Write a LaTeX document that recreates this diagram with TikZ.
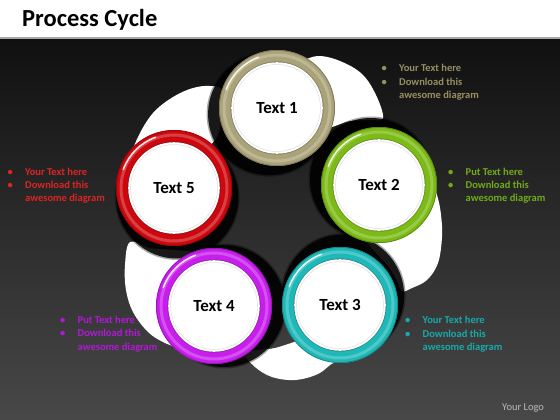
\documentclass[tikz,border=0pt]{standalone}
\usepackage{fontspec}
\setmainfont{Carlito}
\definecolor{cA}{RGB}{170,162,120}
\definecolor{cB}{RGB}{124,186,22}
\definecolor{cC}{RGB}{30,184,184}
\definecolor{cD}{RGB}{200,30,236}
\definecolor{cE}{RGB}{204,8,14}
\definecolor{tA}{RGB}{152,142,98}
\definecolor{tB}{RGB}{114,170,24}
\definecolor{tC}{RGB}{24,170,170}
\definecolor{tD}{RGB}{178,24,216}
\definecolor{tE}{RGB}{220,36,36}
\definecolor{bgtop}{RGB}{16,16,16}
\definecolor{bgbot}{RGB}{72,72,72}
\newcommand\ringat[5]{%
  \fill[#4, even odd rule] (#2,#3) circle[radius=58pt] (#2,#3) circle[radius=46pt];
  \draw[#4!55!white, line width=3pt, opacity=.5] (#2,#3) circle[radius=53pt];
  \draw[#4!75!black, line width=.8pt] (#2,#3) circle[radius=57.6pt];
  \draw[#4!75!black, line width=.6pt] (#2,#3) circle[radius=46.2pt];
  \fill[white] (#2,#3) circle[radius=45.8pt];
  \draw[gray!25, line width=.5pt] (#2,#3) circle[radius=43.5pt];
  \draw[white, opacity=.85, line width=1.6pt, line cap=round] ([shift={(110:54pt)}]#2,#3) arc[start angle=110, end angle=160, radius=54pt];
  \node[lbl] (#1) at (#2,#3) {#5};
}
\newcommand\shadowat[2]{%
  \fill[black, opacity=.35] (#1,#2) circle[radius=62.5pt];
  \fill[black, opacity=.85] (#1,#2) circle[radius=61pt];
}
\newcommand\bullets[6]{% name, x, y, color, line1, line2
  \node[bul, text=#4] (#1) at (#2,#3) {\begin{tabular}[t]{@{}l@{}}
    \makebox[17.5pt][l]{\textbullet}#5\\
    \makebox[17.5pt][l]{\textbullet}#6\\
    \makebox[17.5pt][l]{}awesome diagram
  \end{tabular}};
}
\begin{document}
\begin{tikzpicture}[x=1pt,y=-1pt,
  lbl/.style={font=\fontsize{17}{20}\selectfont\bfseries, text=black, inner sep=0pt},
  bul/.style={font=\fontsize{10.5}{13.5}\selectfont\bfseries, anchor=base west, inner sep=0pt},
  blade/.style={fill=white}]
\useasboundingbox (0,0) rectangle (560,420);
% background
\fill[white] (0,0) rectangle (560,38);
\shade[top color=bgtop, bottom color=bgbot] (0,38) rectangle (560,420);
\fill[gray!70] (0,37.3) rectangle (560,39);
\node[font=\fontsize{24.5}{28}\selectfont\bfseries, anchor=base west, inner sep=0pt] (title) at (22,27) {Process Cycle};
% blades
\fill[blade] plot[smooth, tension=.6] coordinates {(300,62) (318,56) (340,61) (362,74) (376,95) (383,118) (370,120) (350,121) (332,127) (322,128)} -- (277,108) -- cycle;
\fill[blade] plot[smooth, tension=.6] coordinates {(425,160) (437,195) (441,215) (442,237) (438,263) (427,280) (412,288) (402,291) (396,279) (388,266) (376,253) (365,240)} -- (379,185) -- cycle;
\fill[blade] plot[smooth, tension=.6] coordinates {(360,355) (335,362) (318,374) (295,380) (272,377) (255,367) (245,354) (258,350) (275,348) (300,340)} -- (340,305) -- cycle;
\fill[blade] plot[smooth, tension=.6] coordinates {(185,350) (165,343) (148,332) (133,312) (126,290) (125,265) (130,242) (150,248) (175,250) (195,252) (205,256)} -- (214,306) -- cycle;
\fill[blade] plot[smooth, tension=.6] coordinates {(130,175) (130,160) (138,137) (153,113) (173,97) (193,88) (210,86) (222,90) (222,110) (218,135) (205,150)} -- (174,188) -- cycle;
% shadows
\shadowat{269.1}{114.1}
\shadowat{371}{179}
\shadowat{343.1}{295.5}
\shadowat{224}{306}
\shadowat{177.2}{197.5}
% rings
\ringat{t1}{277}{108}{cA}{Text 1}
\ringat{t2}{379}{185}{cB}{Text 2}
\ringat{t3}{340}{305}{cC}{Text 3}
\ringat{t4}{214}{306}{cD}{Text 4}
\ringat{t5}{174}{188}{cE}{Text 5}
% text blocks
\bullets{b1}{381.5}{71.5}{tA}{Your Text here}{Download this}
\bullets{b2}{448}{175}{tB}{Put Text here}{Download this}
\bullets{b3}{405}{323.5}{tC}{Your Text here}{Download this}
\bullets{b4}{60}{323}{tD}{Put Text here}{Download this}
\bullets{b5}{7.5}{175}{tE}{Your Text here}{Download this}
\node[font=\fontsize{10.5}{12}\selectfont, text=gray!55, anchor=base west, inner sep=0pt] (logo) at (502,410) {Your Logo};
\end{tikzpicture}
\end{document}
